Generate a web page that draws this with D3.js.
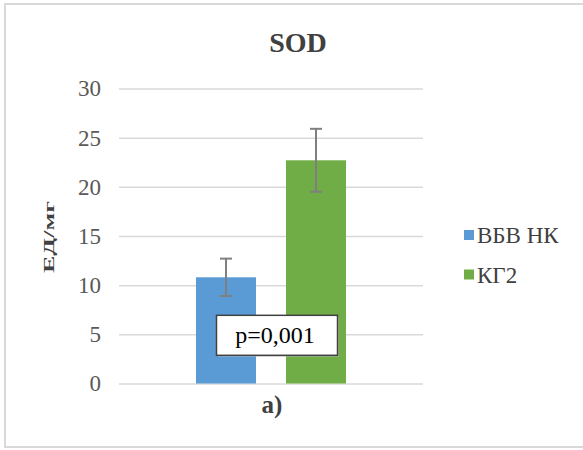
<!DOCTYPE html>
<html>
<head>
<meta charset="utf-8">
<script src="https://cdn.jsdelivr.net/npm/d3@7"></script>
<style>
  html, body { margin: 0; padding: 0; background: #fff; }
  svg { display: block; font-family: "Liberation Serif", "Times New Roman", serif; }
</style>
</head>
<body>
<svg id="chart" width="583" height="450"></svg>
<script>
// SOD activity, units per mg
const categories = ["a)"];
const seriesNames = ["ВБВ НК", "КГ2"];
const seriesColors = ["#5b9bd5", "#70ad47"];
const meanValues = [10.8, 22.7];
const errorValues = [1.9, 3.2];
const yTicks = [0, 5, 10, 15, 20, 25, 30];
const pLabel = "p=0,001";

const svg = d3.select("#chart");

// outer frame
svg.append("rect")
  .attr("x", 5).attr("y", 4)
  .attr("width", 600).attr("height", 443)
  .attr("fill", "#fff")
  .attr("stroke", "#d9d9d9")
  .attr("stroke-width", 2);

const plot = { left: 119, right: 423, top: 88.5, bottom: 383.5 };

const y = d3.scaleLinear().domain([0, 30]).range([plot.bottom, plot.top]);
const x0 = d3.scaleBand().domain(categories).range([plot.left, plot.right])
  .paddingInner(0).paddingOuter(0.513);
const x1 = d3.scaleBand().domain(seriesNames).range([0, x0.bandwidth()])
  .paddingInner(1 / 3).paddingOuter(0);

// gridlines and tick labels
const yAxis = d3.axisLeft(y).tickValues(yTicks)
  .tickSize(-(plot.right - plot.left)).tickPadding(18);
const gy = svg.append("g").attr("transform", `translate(${plot.left},0)`).call(yAxis);
gy.select(".domain").remove();
gy.selectAll(".tick line").attr("stroke", "#d9d9d9").attr("stroke-width", 1.5);
gy.selectAll(".tick text")
  .attr("fill", "#595959")
  .attr("font-size", 23)
  .attr("font-family", "'Liberation Serif', 'Times New Roman', serif");

// bars
const rows = seriesNames.map((s, i) => ({
  cat: categories[0], name: s, value: meanValues[i], err: errorValues[i], color: seriesColors[i]
}));
const group = svg.append("g").attr("transform", `translate(${x0(categories[0])},0)`);
group.selectAll("rect.bar").data(rows).join("rect")
  .attr("class", "bar")
  .attr("x", d => x1(d.name))
  .attr("width", x1.bandwidth())
  .attr("y", d => y(d.value))
  .attr("height", d => y(0) - y(d.value))
  .attr("fill", d => d.color);

// error bars
const cap = 6;
const eb = group.selectAll("g.err").data(rows).join("g").attr("class", "err")
  .attr("stroke", "#7f7f7f").attr("stroke-width", 2);
eb.append("line")
  .attr("x1", d => x1(d.name) + x1.bandwidth() / 2)
  .attr("x2", d => x1(d.name) + x1.bandwidth() / 2)
  .attr("y1", d => y(d.value + d.err))
  .attr("y2", d => y(d.value - d.err));
eb.append("line")
  .attr("x1", d => x1(d.name) + x1.bandwidth() / 2 - cap)
  .attr("x2", d => x1(d.name) + x1.bandwidth() / 2 + cap)
  .attr("y1", d => y(d.value + d.err))
  .attr("y2", d => y(d.value + d.err));
eb.append("line")
  .attr("x1", d => x1(d.name) + x1.bandwidth() / 2 - cap)
  .attr("x2", d => x1(d.name) + x1.bandwidth() / 2 + cap)
  .attr("y1", d => y(d.value - d.err))
  .attr("y2", d => y(d.value - d.err));

// significance box
const boxCx = x0(categories[0]) + x0.bandwidth() / 2 + 6;
const boxCy = y(4.9);
const boxW = 121, boxH = 40;
svg.append("rect")
  .attr("x", boxCx - boxW / 2 + 1.5).attr("y", boxCy - boxH / 2 + 1.5)
  .attr("width", boxW).attr("height", boxH)
  .attr("fill", "#bfbfbf").attr("opacity", 0.6);
svg.append("rect")
  .attr("x", boxCx - boxW / 2).attr("y", boxCy - boxH / 2)
  .attr("width", boxW).attr("height", boxH)
  .attr("fill", "#fff").attr("stroke", "#404040").attr("stroke-width", 1.5);
svg.append("text")
  .attr("x", boxCx - 2).attr("y", boxCy + 8)
  .attr("text-anchor", "middle")
  .attr("font-size", 24).attr("fill", "#000")
  .text(pLabel);

// category label
svg.append("text")
  .attr("x", x0(categories[0]) + x0.bandwidth() / 2 + 1)
  .attr("y", 413)
  .attr("text-anchor", "middle")
  .attr("font-size", 25).attr("font-weight", "bold").attr("fill", "#404040")
  .text(categories[0]);

// title
svg.append("text")
  .attr("x", 298).attr("y", 52)
  .attr("text-anchor", "middle")
  .attr("font-size", 28).attr("font-weight", "bold").attr("fill", "#404040")
  .text("SOD");

// y axis title
svg.append("text")
  .attr("transform", "translate(54,237) rotate(-90) scale(1,0.6)")
  .attr("text-anchor", "middle")
  .attr("font-size", 26).attr("font-weight", "bold").attr("fill", "#404040")
  .text("ЕД/мг");

// legend
const legend = svg.append("g");
const li = legend.selectAll("g").data(rows).join("g")
  .attr("transform", (d, i) => `translate(464,${230 + i * 39.5})`);
li.append("rect").attr("width", 10).attr("height", 10).attr("fill", d => d.color);
li.append("text")
  .attr("x", 13).attr("y", 5).attr("dy", "0.35em")
  .attr("font-size", 23).attr("fill", "#404040")
  .text(d => d.name);
</script>
</body>
</html>
